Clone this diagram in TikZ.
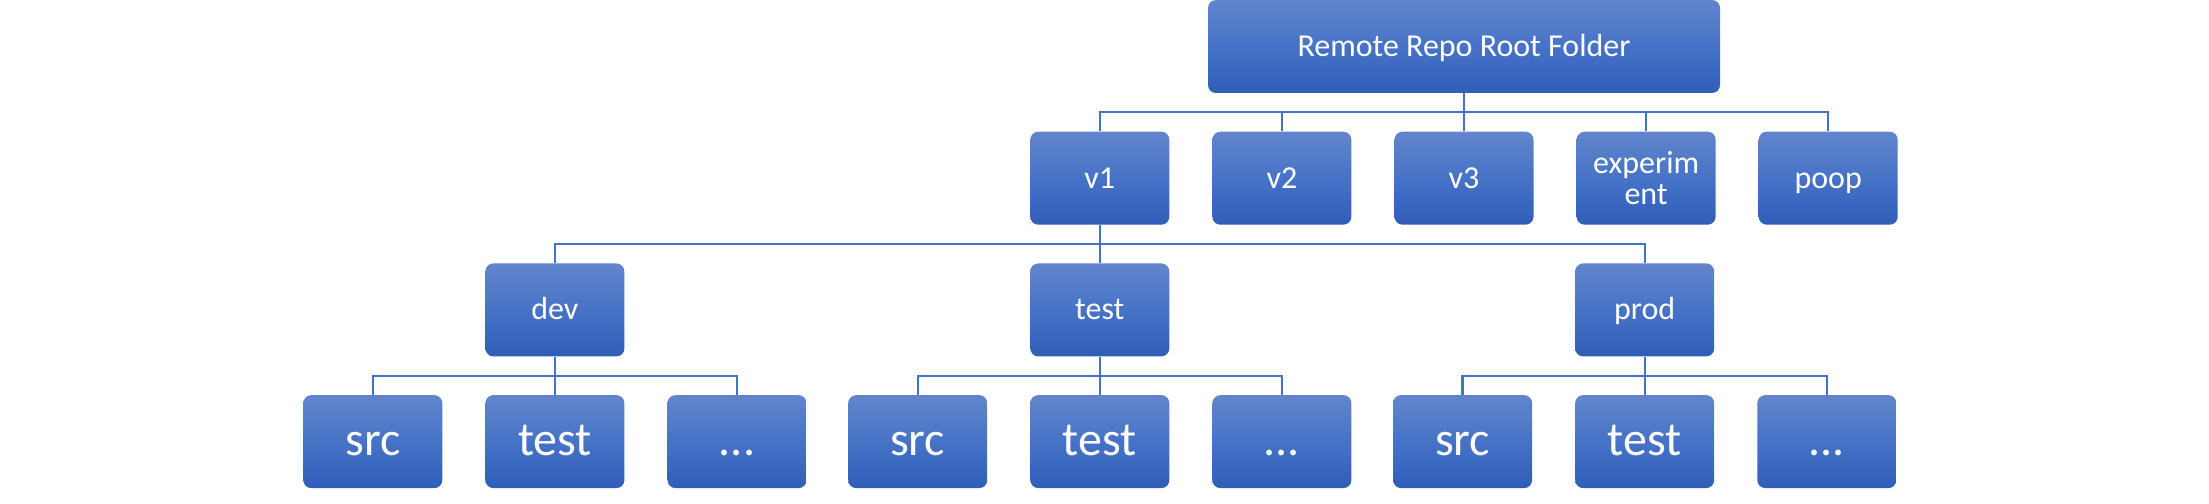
\documentclass[tikz,border=0pt]{standalone}
\usepackage{fontspec}
\setmainfont{Carlito}
\usetikzlibrary{positioning}
\definecolor{boxtop}{RGB}{98,133,204}
\definecolor{boxmid}{RGB}{70,115,199}
\definecolor{boxbot}{RGB}{47,94,184}
\definecolor{linkblue}{RGB}{68,114,196}

\begin{document}
\begin{tikzpicture}[node distance=0.76cm and 0.848cm,
    folder/.style={rounded corners=0.16cm, top color=boxtop, bottom color=boxbot, middle color=boxmid,
      text=white, minimum width=2.78cm, minimum height=1.86cm, inner sep=0pt},
    lvbox/.style={folder, font=\fontsize{18.2}{17.6}\selectfont, text height=0.5cm, text depth=0.1cm},
    leafbox/.style={folder, font=\fontsize{27.3}{28}\selectfont, text height=0.7cm, text depth=0.14cm},
    link/.style={draw=linkblue, line width=0.045cm}]
    \useasboundingbox (0,0) rectangle (44.18,-10.08);
    \node[lvbox, minimum width=10.24cm] (root) at (29.28,-0.93) {Remote Repo Root Folder};
    \node[lvbox, below=of root] (v3) {v3};
    \node[lvbox, left=of v3] (v2) {v2};
    \node[lvbox, left=of v2] (v1) {v1};
    \node[lvbox, right=of v3, align=center, text height=1.16cm] (exp) {experim\\ent};
    \node[lvbox, right=of exp] (poop) {poop};
    \node[lvbox, below=of v1] (test) {test};
    \node[lvbox, left=8.104cm of test] (dev) {dev};
    \node[lvbox, right=8.104cm of test] (prod) {prod};
    % leaves under each stage
    \foreach \p in {dev,test,prod} {
      \node[leafbox, below=of \p] (\p-test) {test};
      \node[leafbox, left=of \p-test] (\p-src) {src};
      \node[leafbox, right=of \p-test] (\p-more) {...};
    }
    \foreach \c in {v1,v2,v3,exp,poop}
      \draw[link] (root.south) -- ++(0,-0.38) -| (\c.north);
    \foreach \c in {dev,test,prod}
      \draw[link] (v1.south) -- ++(0,-0.38) -| (\c.north);
    \foreach \p in {dev,test,prod}
      \foreach \c in {src,test,more}
        \draw[link] (\p.south) -- ++(0,-0.38) -| (\p-\c.north);
  \end{tikzpicture}
\end{document}
